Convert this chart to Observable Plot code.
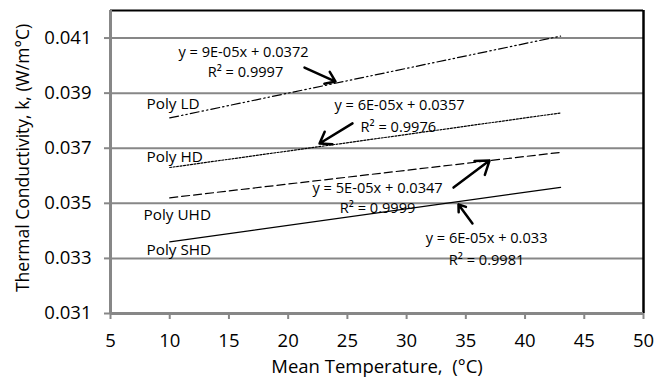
<!DOCTYPE html>
<html><head><meta charset="utf-8">
<script src="https://cdn.jsdelivr.net/npm/d3@7"></script>
<script src="https://cdn.jsdelivr.net/npm/@observablehq/plot@0.6"></script>
<style>
body{margin:0;background:#fff;}
#chart svg g[aria-label="x-axis tick label"], #chart svg g[aria-label="y-axis tick label"] { font-size: 18.5px !important; }
</style>
</head><body><div id="chart"></div>
<script>
// ---- data ----
const series = ["Poly LD", "Poly HD", "Poly UHD", "Poly SHD"];
const temps = [10, 43];
const kLD  = [0.0381, 0.04107];
const kHD  = [0.0363, 0.03828];
const kUHD = [0.0352, 0.03685];
const kSHD = [0.0336, 0.03558];

const xTicks = [5, 10, 15, 20, 25, 30, 35, 40, 45, 50];
const yTicks = [0.031, 0.033, 0.035, 0.037, 0.039, 0.041];
const xTitle = "Mean Temperature,  (°C)";
const yTitle = "Thermal Conductivity, k, (W/m°C)";

// series name labels
const nameX = [8.04, 8.04, 7.79, 8.04];
const nameY = [0.03862, 0.03666, 0.03456, 0.03329];

// trendline equation labels
const eqText = ["y = 9E-05x + 0.0372", "R² = 0.9997",
                "y = 6E-05x + 0.0357", "R² = 0.9976",
                "y = 5E-05x + 0.0347", "R² = 0.9999",
                "y = 6E-05x + 0.033",  "R² = 0.9981"];
const eqX = [16.23, 16.4, 29.4, 29.3, 27.55, 27.55, 36.75, 36.75];
const eqY = [0.04048, 0.03975, 0.03855, 0.03775, 0.03554, 0.03481, 0.03372, 0.03292];

// annotation arrows (tail -> head)
const arrX1 = [21.38, 25.43, 33.96, 35.56];
const arrY1 = [0.03993, 0.0379, 0.03557, 0.03427];
const arrX2 = [24.0, 22.65, 37.0, 34.38];
const arrY2 = [0.03942, 0.03717, 0.03655, 0.03496];

// ---- build tables ----
const seriesK = [kLD, kHD, kUHD, kSHD];
const dashes = ["9,3,1.5,3,1.5,3", "2,1.5", "8,4", null];
const lineData = series.map((s, i) => temps.map((t, j) => ({series: s, t, k: seriesK[i][j]})));
const names = series.map((s, i) => ({s, x: nameX[i], y: nameY[i]}));
const eqs = eqText.map((s, i) => ({s, x: eqX[i], y: eqY[i]}));
const arrows = arrX1.map((d, i) => ({x1: arrX1[i], y1: arrY1[i], x2: arrX2[i], y2: arrY2[i]}));

const grey = "#878787";
const chart = Plot.plot({
  width: 667,
  height: 381,
  marginLeft: 110,
  marginRight: 24,
  marginTop: 10,
  marginBottom: 68,
  style: {fontFamily: "'Open Sans', sans-serif", fontSize: "16px", color: "#000", background: "#fff", overflow: "visible"},
  x: {domain: [5, 50]},
  y: {domain: [0.031, 0.042]},
  marks: [
    Plot.gridY(yTicks, {stroke: grey, strokeOpacity: 1, strokeWidth: 2}),
    Plot.ruleY([0.042], {stroke: "#000", strokeWidth: 2}),
    Plot.ruleX([50], {stroke: "#000", strokeWidth: 2.5}),
    Plot.axisX({ticks: xTicks, tickSize: 6, tickPadding: 14, stroke: grey, strokeWidth: 2, fontSize: 18.5, label: null}),
    Plot.axisY({ticks: yTicks, tickFormat: d3.format(".3f"), tickSize: 6, tickPadding: 13, stroke: grey, strokeWidth: 2, fontSize: 18.5, label: null}),
    Plot.text([xTitle], {frameAnchor: "bottom", dy: 59, fontSize: 18.5}),
    Plot.text([yTitle], {frameAnchor: "left", textAnchor: "middle", dx: -87, dy: -4, rotate: -90, fontSize: 17.5}),
    Plot.ruleX([5], {stroke: grey, strokeWidth: 3}),
    Plot.ruleY([0.031], {stroke: grey, strokeWidth: 3}),
    ...lineData.map((d, i) => Plot.line(d, {x: "t", y: "k", stroke: "#000", strokeWidth: 1.2,
      strokeDasharray: dashes[i] ?? undefined})),
    Plot.text(names, {x: "x", y: "y", text: "s", textAnchor: "start", fontSize: 15.3}),
    Plot.text(eqs, {x: "x", y: "y", text: "s", fontSize: 14.6}),
    Plot.arrow(arrows, {x1: "x1", y1: "y1", x2: "x2", y2: "y2", stroke: "#000", strokeWidth: 2.5,
      headLength: 15, headAngle: 70})
  ]
});
document.getElementById("chart").appendChild(chart);
</script>
</body></html>
